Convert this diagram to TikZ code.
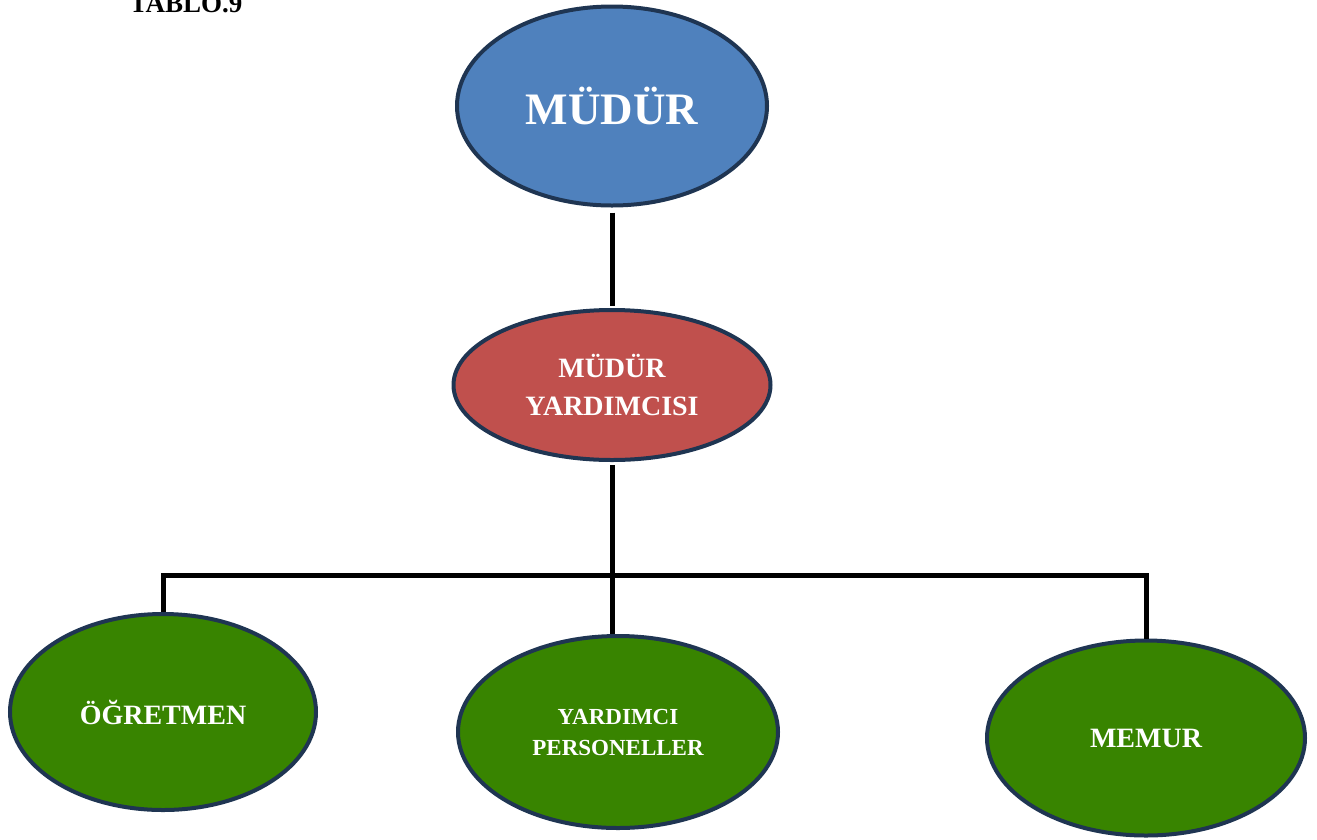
\documentclass[tikz,border=0pt]{standalone}
\usepackage{fontspec}
\setmainfont{Liberation Serif}
\usetikzlibrary{shapes.geometric}
\definecolor{bluefill}{HTML}{4F81BD}
\definecolor{redfill}{HTML}{C0504D}
\definecolor{greenfill}{HTML}{388400}
\definecolor{navyline}{HTML}{1F3552}
\tikzset{
  unit/.style={ellipse, draw=navyline, line width=4pt, text=white,
    font=\bfseries, align=center, inner sep=0pt},
  conn/.style={draw=black, line width=5pt}
}
\begin{document}
\begin{tikzpicture}[x=1pt,y=-1pt]
  \useasboundingbox (0,0) rectangle (1317,839);
  \node[anchor=base, font=\fontsize{27}{27}\selectfont\bfseries] (title) at (186,12) {TABLO.9};
  \node[unit, fill=bluefill, minimum width=310pt, minimum height=199pt,
    font=\fontsize{45}{45}\selectfont\bfseries] (mudur) at (612,106) {MÜDÜR};
  \node[unit, fill=redfill, minimum width=317pt, minimum height=150pt,
    font=\fontsize{28}{38}\selectfont\bfseries] (yrd) at (612,385) {MÜDÜR\\YARDIMCISI};
  \node[unit, fill=greenfill, minimum width=306pt, minimum height=196pt,
    font=\fontsize{28}{28}\selectfont\bfseries] (ogr) at (163,712) {ÖĞRETMEN};
  \node[unit, fill=greenfill, minimum width=320pt, minimum height=192pt,
    font=\fontsize{23}{31}\selectfont\bfseries] (yp) at (618,732) {YARDIMCI\\PERSONELLER};
  \node[unit, fill=greenfill, minimum width=318pt, minimum height=195pt,
    font=\fontsize{28}{28}\selectfont\bfseries] (memur) at (1146,738) {MEMUR};
  \coordinate (bus) at (612,575);
  \begin{scope}[conn]
    \draw ([yshift=-5pt]mudur.south) -- ([yshift=2pt]yrd.north);
    \draw ([yshift=-3pt]yrd.south) -- (yrd.south |- yp.north);
    \draw (ogr.north) -- (ogr.north |- bus) -- (bus -| memur.north) -- (memur.north);
  \end{scope}
\end{tikzpicture}
\end{document}
